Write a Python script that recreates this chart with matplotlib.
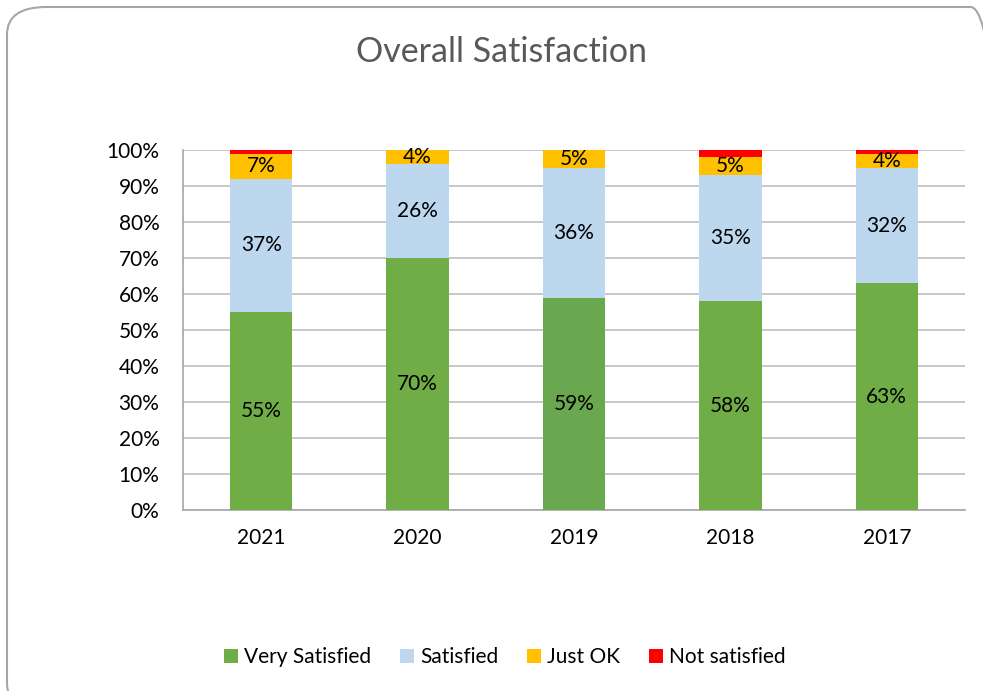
import matplotlib.pyplot as plt
from matplotlib.patches import FancyBboxPatch, Patch

years = ["2021", "2020", "2019", "2018", "2017"]
very_satisfied = [55, 70, 59, 58, 63]
satisfied = [37, 26, 36, 35, 32]
just_ok = [7, 4, 5, 5, 4]
not_satisfied = [1, 0, 0, 2, 1]

series_names = ["Very Satisfied", "Satisfied", "Just OK", "Not satisfied"]
colors = ["#70AD47", "#BDD7EE", "#FFC000", "#FF0000"]

plt.rcParams["font.family"] = ["Lato", "DejaVu Sans"]

fig = plt.figure(figsize=(9.83, 6.91), dpi=100)
W, H = 983, 691

# rounded chart border
border = FancyBboxPatch((7 / W, -20 / H), (1010 - 7) / W, (684 + 20) / H,
                        boxstyle="round,pad=0,rounding_size=0.04",
                        transform=fig.transFigure, fill=False,
                        edgecolor="#A6A6A6", linewidth=1.5, clip_on=False)
fig.patches.append(border)

ax = fig.add_axes([183 / W, (H - 510) / H, (965 - 183) / W, 360 / H])

x = list(range(len(years)))
bottom = [0] * len(years)
for name, vals, col in zip(series_names,
                           [very_satisfied, satisfied, just_ok, not_satisfied],
                           colors):
    bar_cols = [col] * len(years)
    if name == "Very Satisfied":
        bar_cols[2] = "#6AA84F"
    ax.bar(x, vals, 0.4, bottom=bottom, color=bar_cols, zorder=3)
    if name != "Not satisfied":
        for i, v in enumerate(vals):
            if v > 0:
                ax.text(i, bottom[i] + v / 2, f"{v}%", ha="center", va="center",
                        fontsize=15, color="black", zorder=4)
    bottom = [b + v for b, v in zip(bottom, vals)]

ax.set_xlim(-0.5, 4.5)
ax.set_ylim(0, 100)
ax.set_yticks(range(0, 101, 10))
ax.set_yticklabels([f"{t}%" for t in range(0, 101, 10)])
ax.set_xticks(x)
ax.set_xticklabels(years)
ax.tick_params(axis="both", length=0, labelsize=15, colors="black")
ax.tick_params(axis="y", pad=17)
ax.tick_params(axis="x", pad=13)
ax.grid(axis="y", color="#BFBFBF", linewidth=1.2, zorder=0)
for s in ["top", "right"]:
    ax.spines[s].set_visible(False)
ax.spines["left"].set_color("#A6A6A6")
ax.spines["bottom"].set_color("#A6A6A6")
ax.spines["left"].set_linewidth(1.2)
ax.spines["bottom"].set_linewidth(1.2)

fig.text(501 / W, 1 - 52 / H, "Overall Satisfaction", ha="center", va="center",
         fontsize=24.5, color="#595959")

handles = [Patch(facecolor=c, label=n) for n, c in zip(series_names, colors)]
fig.legend(handles=handles, loc="center", bbox_to_anchor=(505 / W, 1 - 657 / H),
           ncol=4, frameon=False, fontsize=15, handlelength=0.65,
           handleheight=0.65, handletextpad=0.3, columnspacing=1.4)

fig.savefig("out.png", dpi=100)
